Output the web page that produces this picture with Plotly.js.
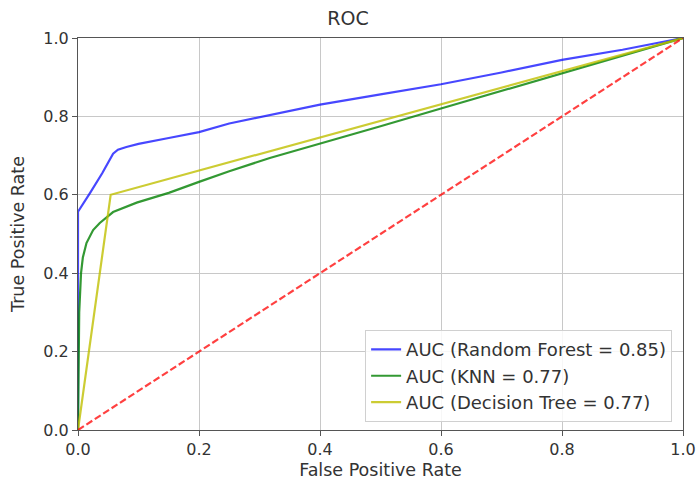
<!DOCTYPE html>
<html>
<head>
<meta charset="utf-8">
<script src="https://cdn.plot.ly/plotly-3.0.1.min.js"></script>
<style>html,body{margin:0;padding:0;background:#fff;}#chart{width:696px;height:491px;}</style>
</head>
<body>
<div id="chart"></div>
<script>
// Random Forest ROC
const rfFpr = [0, 0, 0.02, 0.04, 0.058, 0.066, 0.08, 0.1, 0.15, 0.2, 0.25, 0.32, 0.4, 0.5, 0.6, 0.7, 0.8, 0.9, 1.0];
const rfTpr = [0, 0.557, 0.605, 0.655, 0.705, 0.715, 0.722, 0.73, 0.745, 0.76, 0.782, 0.805, 0.83, 0.856, 0.882, 0.912, 0.944, 0.97, 1.0];
// KNN ROC
const knnFpr = [0, 0.002, 0.005, 0.008, 0.014, 0.025, 0.036, 0.058, 0.097, 0.15, 0.2, 0.25, 0.317, 0.4, 0.5, 0.6, 0.7, 0.8, 0.9, 1.0];
const knnTpr = [0, 0.3, 0.4, 0.44, 0.477, 0.51, 0.528, 0.556, 0.58, 0.605, 0.633, 0.66, 0.694, 0.73, 0.775, 0.82, 0.865, 0.91, 0.955, 1.0];
// Decision Tree ROC
const dtFpr = [0, 0.054, 1.0];
const dtTpr = [0, 0.6, 1.0];
// Chance line
const chanceX = [0, 1];
const chanceY = [0, 1];
const seriesNames = ["AUC (Random Forest = 0.85)", "AUC (KNN = 0.77)", "AUC (Decision Tree = 0.77)"];
const tickVals = [0, 0.2, 0.4, 0.6, 0.8, 1.0];
const tickText = ["0.0", "0.2", "0.4", "0.6", "0.8", "1.0"];

const font = "DejaVu Sans, sans-serif";
const data = [
  {x: rfFpr, y: rfTpr, mode: "lines", name: seriesNames[0], line: {color: "rgba(0,0,255,0.72)", width: 2.2}},
  {x: knnFpr, y: knnTpr, mode: "lines", name: seriesNames[1], line: {color: "rgba(0,128,0,0.8)", width: 2.2}},
  {x: dtFpr, y: dtTpr, mode: "lines", name: seriesNames[2], line: {color: "rgba(191,191,0,0.8)", width: 2.2}},
  {x: chanceX, y: chanceY, mode: "lines", showlegend: false, line: {color: "rgba(255,0,0,0.75)", width: 2.2, dash: "7px,3px"}}
];
const axisCommon = {
  range: [0, 1], tickvals: tickVals, ticktext: tickText,
  showgrid: true, gridcolor: "#c8c8c8", gridwidth: 1,
  showline: true, mirror: true, linecolor: "#555", linewidth: 1,
  ticks: "outside", ticklen: 5, tickcolor: "#555", tickwidth: 1,
  zeroline: false, tickfont: {family: font, size: 16, color: "#333"}
};
const layout = {
  width: 696, height: 491,
  margin: {l: 78, r: 13, t: 38, b: 61},
  paper_bgcolor: "#fff", plot_bgcolor: "#fff",
  font: {family: font, color: "#333"},
  title: {text: "ROC", font: {family: font, size: 19, color: "#333"}, x: 0.5, xanchor: "center", y: 0.963, yanchor: "middle"},
  xaxis: Object.assign({}, axisCommon, {title: {text: "False Positive Rate", font: {family: font, size: 17.5, color: "#333"}, standoff: 5}}),
  yaxis: Object.assign({}, axisCommon, {title: {text: "True Positive Rate", font: {family: font, size: 17.5, color: "#333"}, standoff: 14}}),
  showlegend: true,
  legend: {x: 0.982, xanchor: "right", y: 0.02, yanchor: "bottom", bgcolor: "rgba(255,255,255,0.85)", bordercolor: "#d0d0d0", borderwidth: 1, font: {family: font, size: 18, color: "#333"}}
};
Plotly.newPlot("chart", data, layout, {displayModeBar: false, staticPlot: true});
</script>
</body>
</html>
